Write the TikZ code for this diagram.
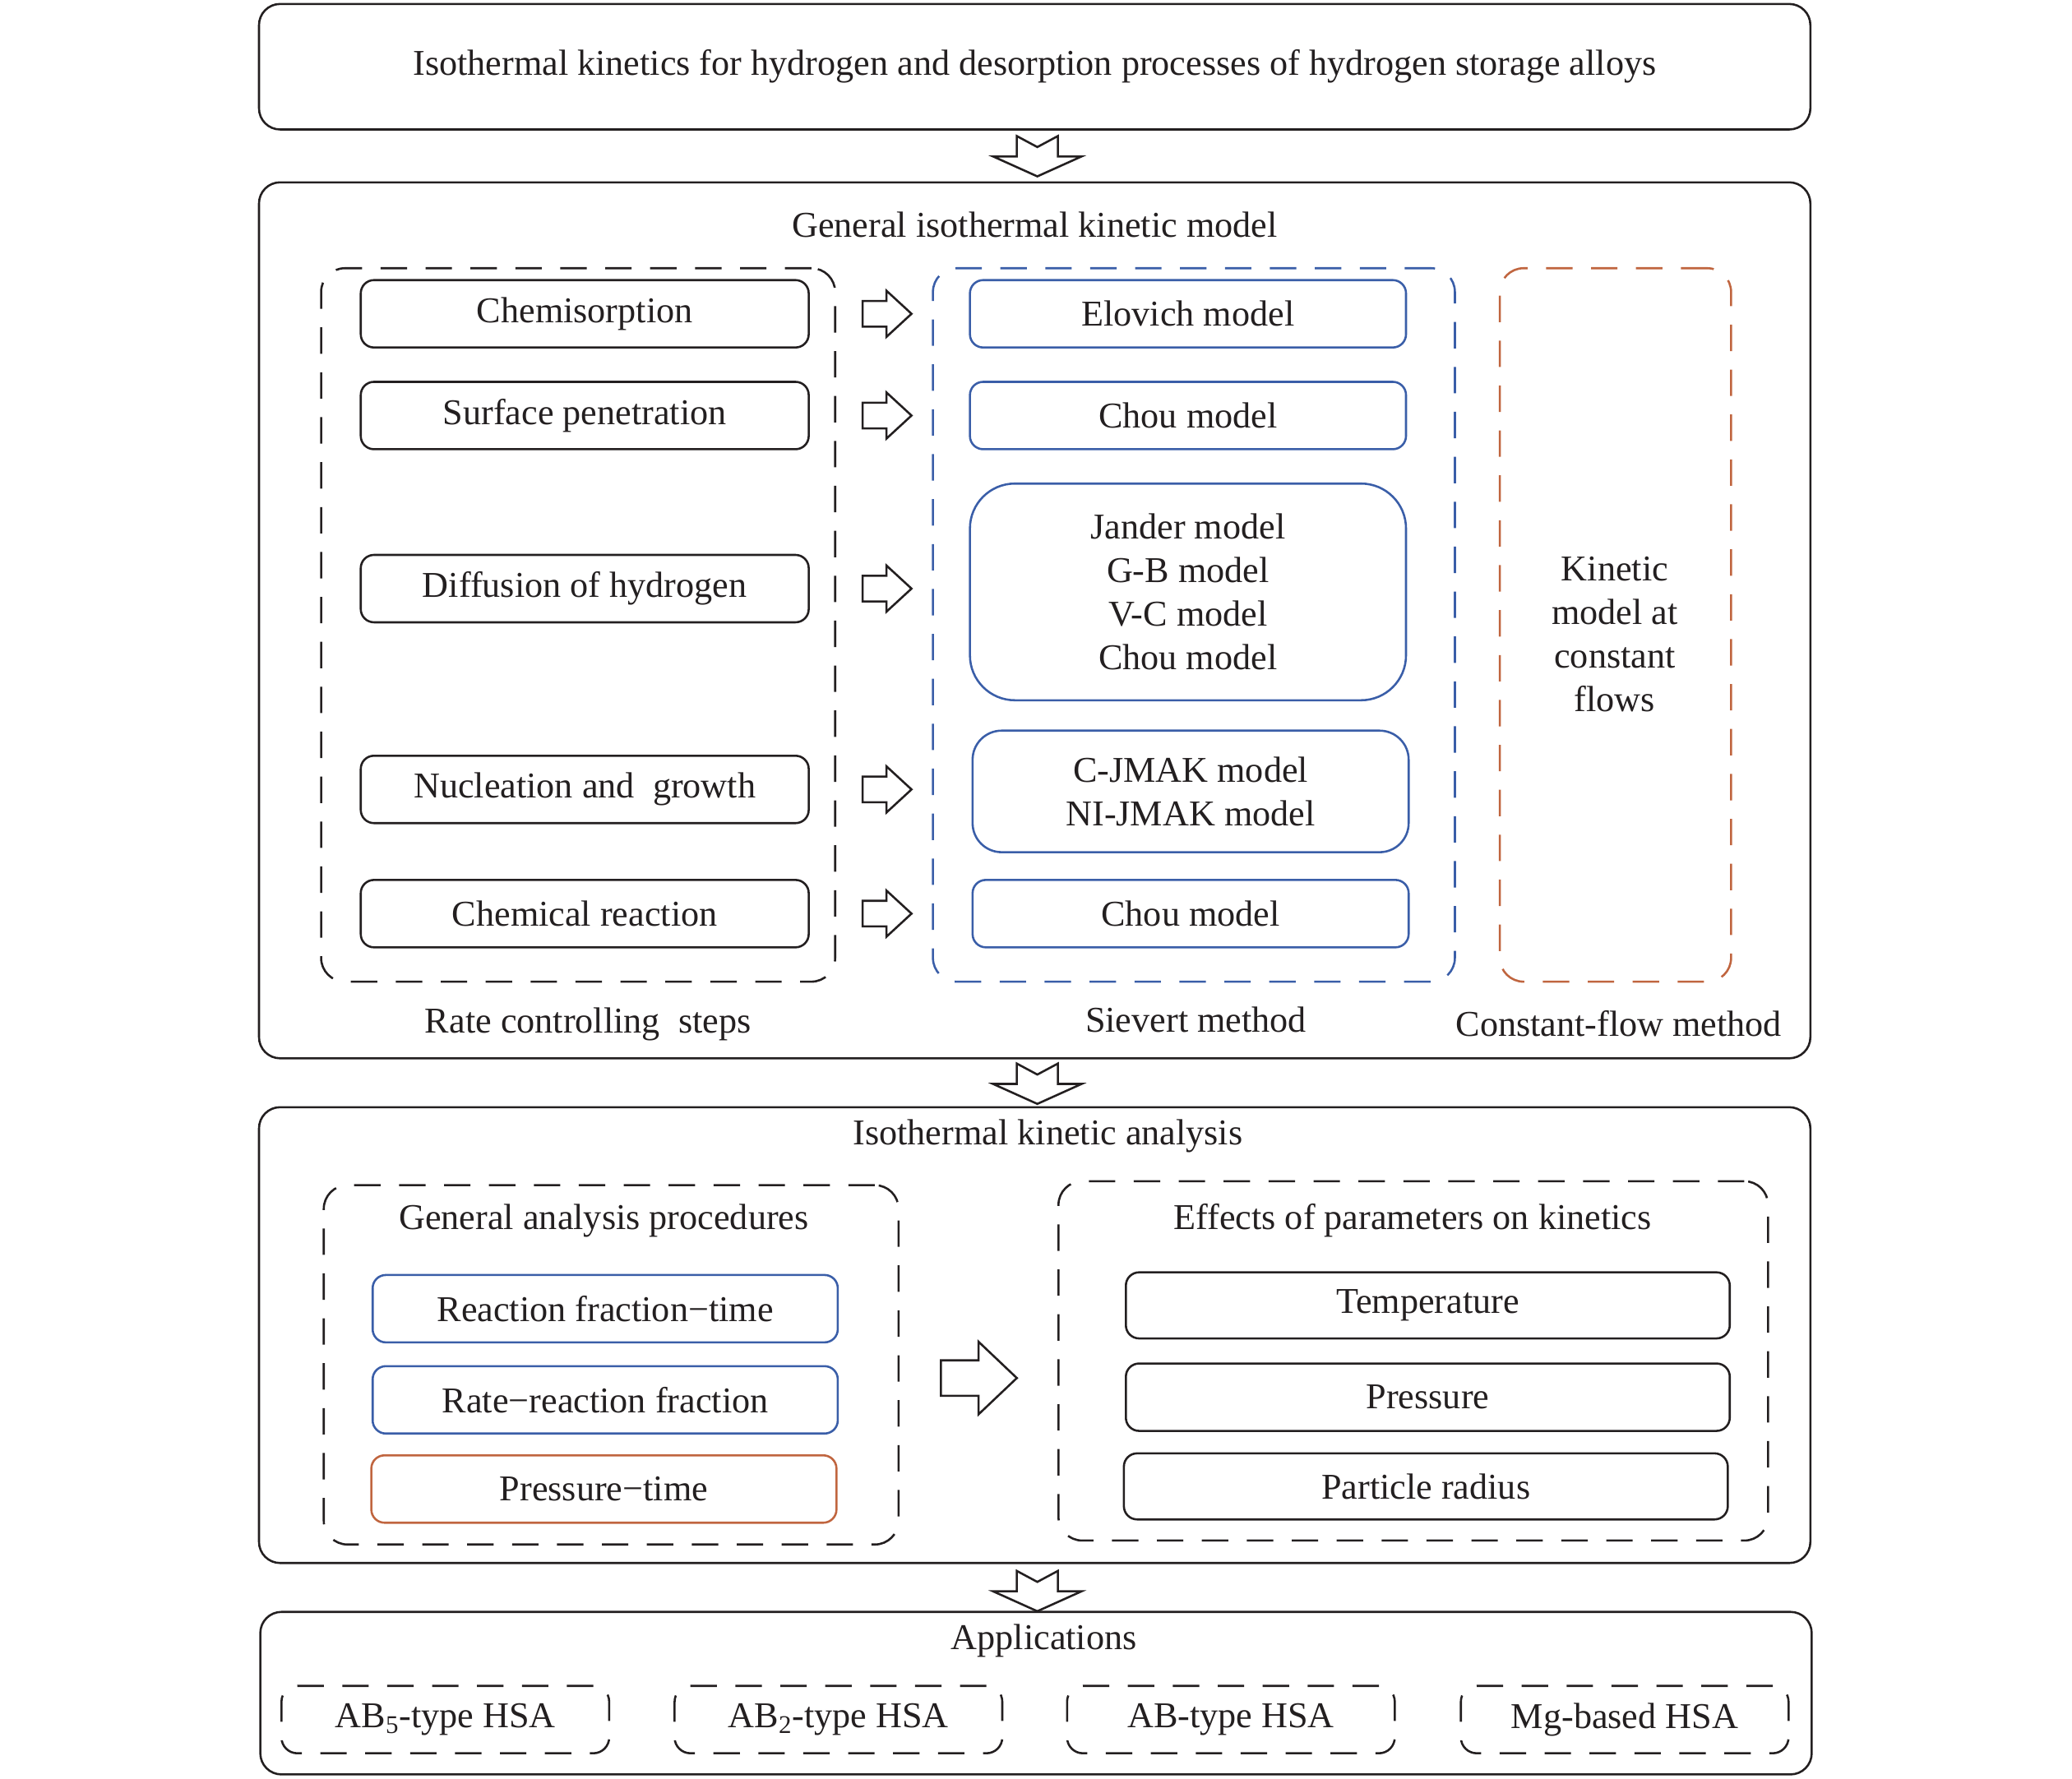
\documentclass[tikz,border=0pt]{standalone}
\usepackage{fontspec}
\setmainfont{Liberation Serif}
\definecolor{sievblue}{RGB}{58,94,168}
\definecolor{flowred}{RGB}{192,101,63}
\definecolor{inkgray}{RGB}{35,31,32}
\tikzset{
  frame/.style = {draw = inkgray, line width = 1.6pt, rounded corners = 16pt},
  stepbox/.style = {draw = inkgray, line width = 1.6pt, rounded corners = 10pt, minimum height = 51pt},
  dashbox/.style = {draw = inkgray, line width = 1.6pt, dash pattern = on 20pt off 14pt, rounded corners = 18pt},
  blockarrow/.style = {draw = inkgray, line width = 1.6pt, fill = white, line join = miter}
}
\newcommand{\downblock}[1]{\draw[blockarrow, shift = {#1}] (-15.5,0) -- (0,8.3) -- (15.5,0) -- (15.5,15.4) -- (33.5,15.4) -- (0,30.5) -- (-33.5,15.4) -- (-15.5,15.4) -- cycle;}
\newcommand{\rightblock}[1]{\draw[blockarrow, shift = {(#1.east)}] (40,-9.7) -- (58,-9.7) -- (58,-17.5) -- (77,0) -- (58,17.5) -- (58,9.7) -- (40,9.7) -- cycle;}
\begin{document}
\begin{tikzpicture}[x = 1pt, y = -1pt, every node/.style = {font = \fontsize{27.5}{33}\selectfont, text = inkgray, align = center}]
\useasboundingbox (0,0) rectangle (1568,1346);
\node[frame, minimum width = 1174pt, minimum height = 95pt] (title) at (783,50.5) {Isothermal kinetics for hydrogen and desorption processes of hydrogen storage alloys};
\node[frame, minimum width = 1174pt, minimum height = 663pt] (modelbox) at (783,469.5) {};
\node[frame, minimum width = 1174pt, minimum height = 345pt] (analysisbox) at (783,1010.5) {};
\node[frame, minimum width = 1174pt, minimum height = 123pt] (appbox) at (784,1281.5) {};
\downblock{(785,103)}
\downblock{(785,805)}
\downblock{(785,1189)}
\node (modeltitle) at (783,170) {General isothermal kinetic model};
\node[dashbox, minimum width = 389pt, minimum height = 540pt] (rate) at (437.5,473) {};
\node[dashbox, draw = sievblue, minimum width = 395pt, minimum height = 540pt] (sievert) at (903.5,473) {};
\node[dashbox, draw = flowred, minimum width = 175pt, minimum height = 540pt] (flow) at (1222.5,473) {};
\node (flowtxt) at (1222,480) {Kinetic\\model at\\constant\\flows};
\foreach \y/\name/\txt in {237.5/chem/Chemisorption, 314.5/surf/Surface penetration, 445.5/diff/Diffusion of hydrogen, 597.5/nucl/Nucleation and \ growth, 691.5/react/Chemical reaction} {
  \node[stepbox, minimum width = 339pt] (\name) at (442.5,\y) {\txt};
  \rightblock{\name}
}
\node[stepbox, draw = sievblue, minimum width = 330pt] (elovich) at (899,237.5) {Elovich model};
\node[stepbox, draw = sievblue, minimum width = 330pt] (chou) at (899,314.5) {Chou model};
\node[stepbox, draw = sievblue, rounded corners = 34pt, minimum width = 330pt, minimum height = 164pt] (jander) at (899,448) {Jander model\\G-B model\\V-C model\\Chou model};
\node[stepbox, draw = sievblue, rounded corners = 22pt, minimum width = 330pt, minimum height = 92pt] (jmak) at (901,599) {C-JMAK model\\NI-JMAK model};
\node[stepbox, draw = sievblue, minimum width = 330pt] (chemchou) at (901,691.5) {Chou model};
\node (ratelabel) at (445,775) {Rate controlling \ steps};
\node (sievlabel) at (905,772) {Sievert method};
\node (flowlabel) at (1225,775) {Constant-flow method};
\node (analysistitle) at (793,860) {Isothermal kinetic analysis};
\node[dashbox, minimum width = 435pt, minimum height = 272pt] (general) at (462.5,1033) {};
\node (generaltitle) at (457,924) {General analysis procedures};
\node[stepbox, draw = sievblue, minimum width = 352pt] (fractime) at (458,990.5) {Reaction fraction−time};
\node[stepbox, draw = sievblue, minimum width = 352pt] (ratefrac) at (458,1059.5) {Rate−reaction fraction};
\node[stepbox, draw = flowred, minimum width = 352pt] (prestime) at (457,1127) {Pressure−time};
\node[dashbox, minimum width = 537pt, minimum height = 272pt] (effects) at (1069.5,1030) {};
\node (effectstitle) at (1069,924) {Effects of parameters on kinetics};
\node[stepbox, minimum width = 457pt, minimum height = 50pt] (temp) at (1080.5,988) {Temperature};
\node[stepbox, minimum width = 457pt] (press) at (1080.5,1057.5) {Pressure};
\node[stepbox, minimum width = 457pt, minimum height = 50pt] (radius) at (1079,1125) {Particle radius};
\draw[blockarrow] (712,1029.6) -- (740.5,1029.6) -- (740.5,1015.5) -- (769.5,1043) -- (740.5,1070.5) -- (740.5,1056.4) -- (712,1056.4) -- cycle;
\node (apptitle) at (790,1242) {Applications};
\foreach \x/\name/\txt in {337/abfive/AB\textsubscript{5}-type HSA, 634.5/abtwo/AB\textsubscript{2}-type HSA, 931.5/abone/AB-type HSA, 1229.5/mgbased/Mg-based HSA} {
  \node[dashbox, rounded corners = 12pt, minimum width = 248pt, minimum height = 51pt] (\name) at (\x,1301.5) {\txt};
}
\end{tikzpicture}
\end{document}
